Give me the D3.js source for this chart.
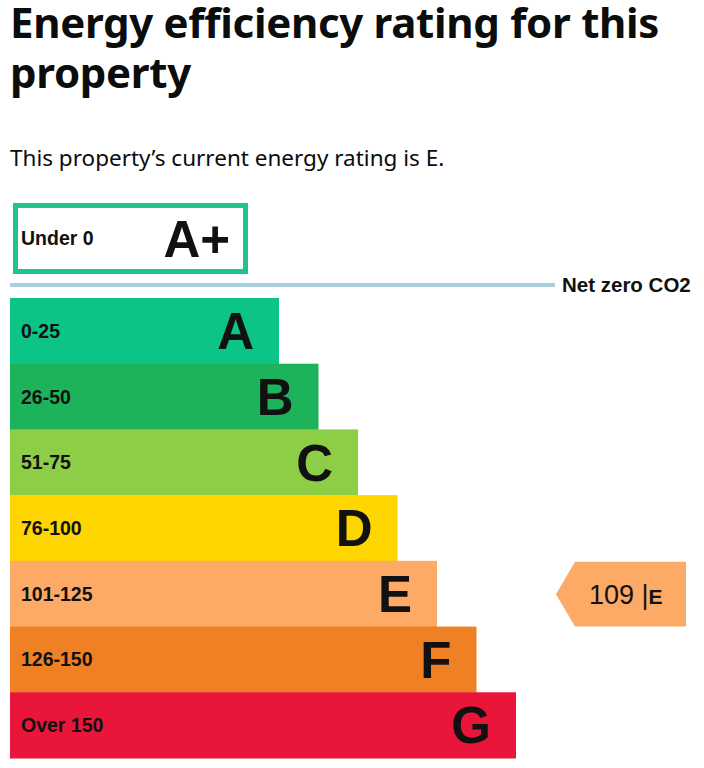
<!DOCTYPE html>
<html>
<head>
<meta charset="utf-8">
<script src="https://cdn.jsdelivr.net/npm/d3@7"></script>
<style>
  body { margin: 0; background: #fff; }
</style>
</head>
<body>
<svg id="stage" width="704" height="768"></svg>
<script>
var svg = d3.select("#stage");

// data
var bands = ["A", "B", "C", "D", "E", "F", "G"];
var ranges = ["0-25", "26-50", "51-75", "76-100", "101-125", "126-150", "Over 150"];
var colors = ["#0cc486", "#1db35b", "#8dce46", "#ffd500", "#fcaa65", "#ef8023", "#e9153b"];
var topBand = { label: "Under 0", letter: "A+", color: "#1fc48c" };
var currentScore = 109;
var currentBand = "E";

var titleLines = ["Energy efficiency rating for this", "property"];
var subtitle = "This property\u2019s current energy rating is E.";

var armFont = "'Liberation Sans', Arial, sans-serif";

// scales
var y = d3.scaleBand().domain(bands).range([298, 758]).paddingInner(0);
var w = d3.scaleLinear().domain([0, bands.length - 1]).range([269, 506]);
var x0 = 10;

////////////////////////////// TITLE

svg.selectAll("text.title")
  .data(titleLines)
  .enter()
  .append("text")
    .attr("class", "title")
    .attr("x", 10)
    .attr("y", function(d, i){ return 38 + i * 50; })
    .attr("style", "font-family: 'Noto Sans', sans-serif; font-weight: bold; font-size: 42px; letter-spacing: -0.3px; fill: #0b0c0c")
    .text(function(d){ return d; });

svg.append("text")
  .attr("x", 10)
  .attr("y", 166)
  .attr("style", "font-family: 'Noto Sans', sans-serif; font-size: 22.5px; fill: #0b0c0c")
  .text(subtitle);

////////////////////////////// A+ BOX

svg.append("rect")
  .attr("x", 15.5).attr("y", 205.5)
  .attr("width", 230).attr("height", 66)
  .attr("fill", "#fff")
  .attr("stroke", topBand.color)
  .attr("stroke-width", 5);

svg.append("text")
  .attr("x", 21).attr("y", 245)
  .attr("style", "font-family: " + armFont + "; font-weight: bold; font-size: 19.5px; fill: #111")
  .text(topBand.label);

svg.append("text")
  .attr("x", 230).attr("y", 257)
  .attr("text-anchor", "end")
  .attr("style", "font-family: " + armFont + "; font-weight: bold; font-size: 51px; fill: #111")
  .text(topBand.letter);

// net zero line
svg.append("line")
  .attr("x1", 10).attr("x2", 555)
  .attr("y1", 285).attr("y2", 285)
  .attr("stroke", "#a9d0dc")
  .attr("stroke-width", 4);

svg.append("text")
  .attr("x", 562).attr("y", 292)
  .attr("style", "font-family: " + armFont + "; font-weight: bold; font-size: 20.5px; fill: #111")
  .text("Net zero CO2");

////////////////////////////// BARS

var rows = svg.selectAll("g.band")
  .data(bands)
  .enter()
  .append("g")
    .attr("class", "band")
    .attr("transform", function(d){ return "translate(" + x0 + "," + y(d) + ")"; });

rows.append("rect")
  .attr("width", function(d, i){ return w(i); })
  .attr("height", y.bandwidth() + 0.5)
  .attr("fill", function(d, i){ return colors[i]; });

rows.append("text")
  .attr("x", 11)
  .attr("y", y.bandwidth() / 2)
  .attr("dy", "0.36em")
  .attr("style", "font-family: " + armFont + "; font-weight: bold; font-size: 19.5px; fill: #111")
  .text(function(d, i){ return ranges[i]; });

rows.append("text")
  .attr("x", function(d, i){ return w(i) - 25; })
  .attr("y", y.bandwidth() / 2)
  .attr("dy", "0.36em")
  .attr("text-anchor", "end")
  .attr("style", "font-family: " + armFont + "; font-weight: bold; font-size: 51px; fill: #111")
  .text(function(d){ return d; });

////////////////////////////// CURRENT ARROW

var ai = bands.indexOf(currentBand);
var ay = y(currentBand) + 1, ah = y.bandwidth() - 1;
var ax = 556, aw = 130, tip = 19;

svg.append("path")
  .attr("d", "M" + ax + "," + (ay + ah / 2) +
             "L" + (ax + tip) + "," + ay +
             "L" + (ax + aw) + "," + ay +
             "L" + (ax + aw) + "," + (ay + ah) +
             "L" + (ax + tip) + "," + (ay + ah) + "Z")
  .attr("fill", colors[ai]);

var lbl = svg.append("text")
  .attr("x", 589)
  .attr("y", ay + ah / 2)
  .attr("dy", "0.36em")
  .attr("style", "font-family: " + armFont + "; font-size: 27px; fill: #111");
lbl.append("tspan").text(currentScore + " |");
lbl.append("tspan")
  .attr("style", "font-weight: bold; font-size: 21px")
  .text(currentBand);
</script>
</body>
</html>
